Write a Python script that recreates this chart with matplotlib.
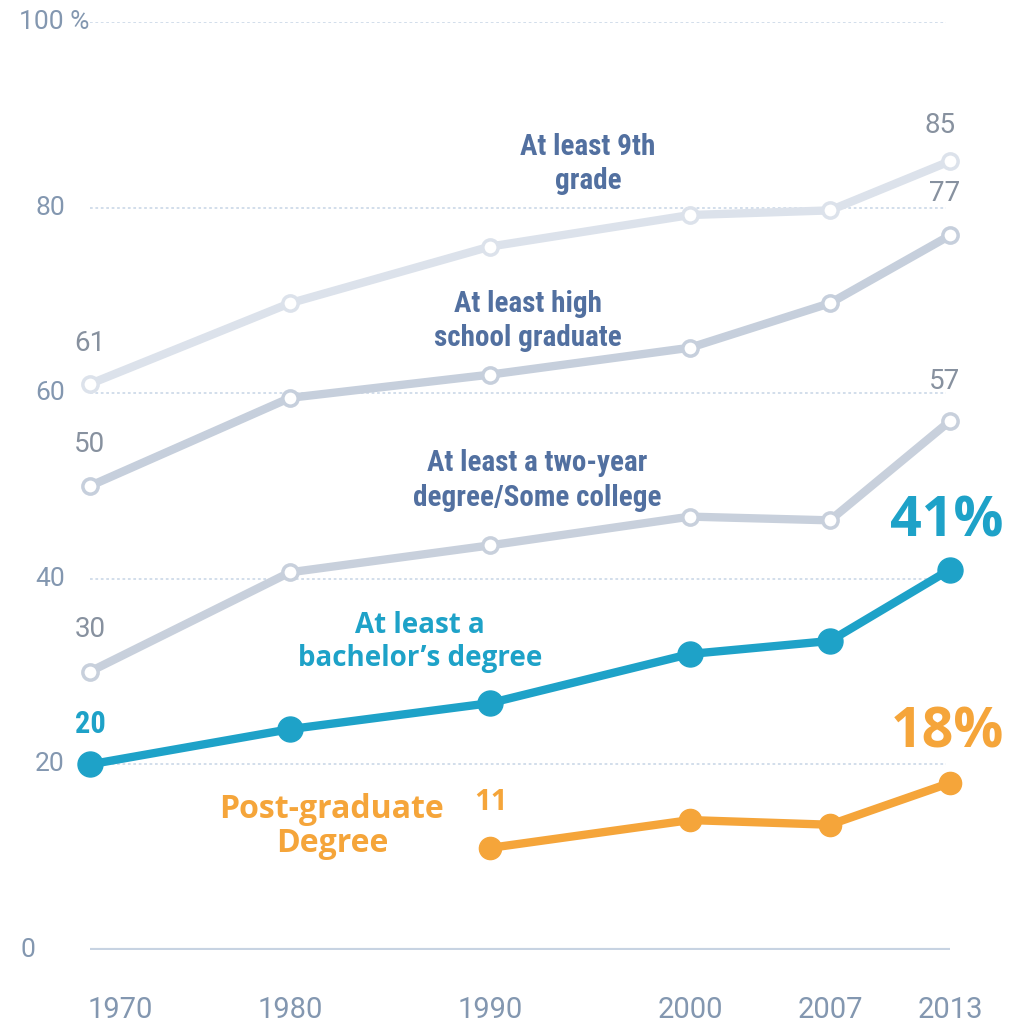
import matplotlib.pyplot as plt
from matplotlib import font_manager

years = [1970, 1980, 1990, 2000, 2007, 2013]
ninth_grade = [61, 69.7, 75.8, 79.2, 79.7, 85]
high_school = [50, 59.5, 62, 64.9, 69.7, 77]
two_year = [30, 40.7, 43.6, 46.7, 46.3, 57]
bachelor = [20, 23.8, 26.6, 31.9, 33.3, 41]
pg_years = [1990, 2000, 2007, 2013]
post_grad = [11, 14, 13.5, 18]

y_ticks = [0, 20, 40, 60, 80, 100]
y_tick_labels = ["0", "20", "40", "60", "80", "100 %"]

names = {f.name for f in font_manager.fontManager.ttflist}
narrow = ["Roboto Condensed", "Liberation Sans Narrow", "DejaVu Sans"]
narrow = [f for f in narrow if f in names] or ["DejaVu Sans"]
regular = ["Roboto", "DejaVu Sans"]
bold_sans = ["Open Sans", "DejaVu Sans"]

BLUE = "#1ea2c8"
ORANGE = "#f5a53a"
LABEL = "#5270a0"
NUM = "#87919f"
TICK = "#8397b0"

fig = plt.figure(figsize=(10.19, 10.26), dpi=100)
ax = fig.add_axes([90 / 1019, 76 / 1026, 860 / 1019, 928 / 1026])
ax.set_xlim(1970, 2013)
ax.set_ylim(0, 100)
for s in ax.spines.values():
    s.set_visible(False)
ax.set_xticks([])
ax.set_yticks([])

# grid
for v in y_ticks[1:]:
    ax.plot([1970, 2012.8], [v, v], color="#cfdbe9", lw=1.3, ls=(0, (1.5, 1.5)), zorder=0)
ax.plot([1970, 2013], [0, 0], color="#c7d3e2", lw=3, zorder=0, solid_capstyle="round")

for v, lab in zip(y_ticks, y_tick_labels):
    xx = -36 if v == 100 else (-62 if v == 0 else -40)
    ax.annotate(lab, (1970, v), xytext=(xx, 0), textcoords="offset pixels",
                ha="center", va="center", fontsize=19, color=TICK, family=regular)
for yr in years:
    dx = 30 if yr == years[0] else 0  # first year label sits right of the edge
    ax.annotate(str(yr), (yr, 0), xytext=(dx, -60), textcoords="offset pixels",
                ha="center", va="center", fontsize=21, color=TICK, family=regular)

def gray_line(vals, color):
    ax.plot(years, vals, color=color, lw=6, marker="o", ms=11, mfc="white",
            mec=color, mew=2.5, clip_on=False, zorder=2, solid_capstyle="round")

gray_line(ninth_grade, "#dce2eb")
gray_line(high_school, "#c6cfdc")
gray_line(two_year, "#c8d0dc")

ax.plot(years, bachelor, color=BLUE, lw=6, marker="o", ms=18, clip_on=False, zorder=3)
ax.plot(pg_years, post_grad, color=ORANGE, lw=6, marker="o", ms=16, clip_on=False, zorder=3)

# series labels
lab_kw = dict(ha="center", va="center", fontsize=21, fontweight="bold", color=LABEL,
              family=narrow, linespacing=1.3)
ax.text(1994.9, 84.7, "At least 9th\ngrade", **lab_kw)
ax.text(1991.9, 67.8, "At least high\nschool graduate", **lab_kw)
ax.text(1992.35, 50.6, "At least a two-year\ndegree/Some college", **lab_kw)

ax.text(1986.5, 33.2, "At least a\nbachelor\u2019s degree", ha="center", va="center",
        fontsize=20, fontweight="bold", color=BLUE, family=bold_sans, linespacing=1.2)
ax.text(1982.1, 13.3, "Post-graduate\nDegree", ha="center", va="center",
        fontsize=23, fontweight="bold", color=ORANGE, family=bold_sans, linespacing=1.05)

# value labels
num_kw = dict(ha="center", va="center", fontsize=20, color=NUM, family=regular)
ax.annotate(f"{ninth_grade[0]:.0f}", (1970, ninth_grade[0]), xytext=(0, 40), textcoords="offset pixels", **num_kw)
ax.annotate(f"{high_school[0]:.0f}", (1970, high_school[0]), xytext=(0, 42), textcoords="offset pixels", **num_kw)
ax.annotate(f"{two_year[0]:.0f}", (1970, two_year[0]), xytext=(0, 42), textcoords="offset pixels", **num_kw)
ax.annotate(f"{ninth_grade[-1]:.0f}", (2013, ninth_grade[-1]), xytext=(-10, 36), textcoords="offset pixels", **num_kw)
ax.annotate(f"{high_school[-1]:.0f}", (2013, high_school[-1]), xytext=(-5, 42), textcoords="offset pixels", **num_kw)
ax.annotate(f"{two_year[-1]:.0f}", (2013, two_year[-1]), xytext=(-5, 40), textcoords="offset pixels", **num_kw)

ax.annotate(f"{bachelor[0]:.0f}", (1970, bachelor[0]), xytext=(0, 40), textcoords="offset pixels",
            ha="center", va="center", fontsize=22, fontweight="bold", color=BLUE, family=narrow)
ax.annotate(f"{post_grad[0]:.0f}", (pg_years[0], post_grad[0]), xytext=(1, 45), textcoords="offset pixels",
            ha="center", va="center", fontsize=21, fontweight="bold", color=ORANGE, family=bold_sans)
ax.annotate(f"{bachelor[-1]:.0f}%", (2013, bachelor[-1]), xytext=(-3, 48), textcoords="offset pixels",
            ha="center", va="center", fontsize=40, fontweight="bold", color=BLUE, family=bold_sans)
ax.annotate(f"{post_grad[-1]:.0f}%", (2013, post_grad[-1]), xytext=(-3, 50), textcoords="offset pixels",
            ha="center", va="center", fontsize=40, fontweight="bold", color=ORANGE, family=bold_sans)

fig.savefig("out.png", dpi=100)
